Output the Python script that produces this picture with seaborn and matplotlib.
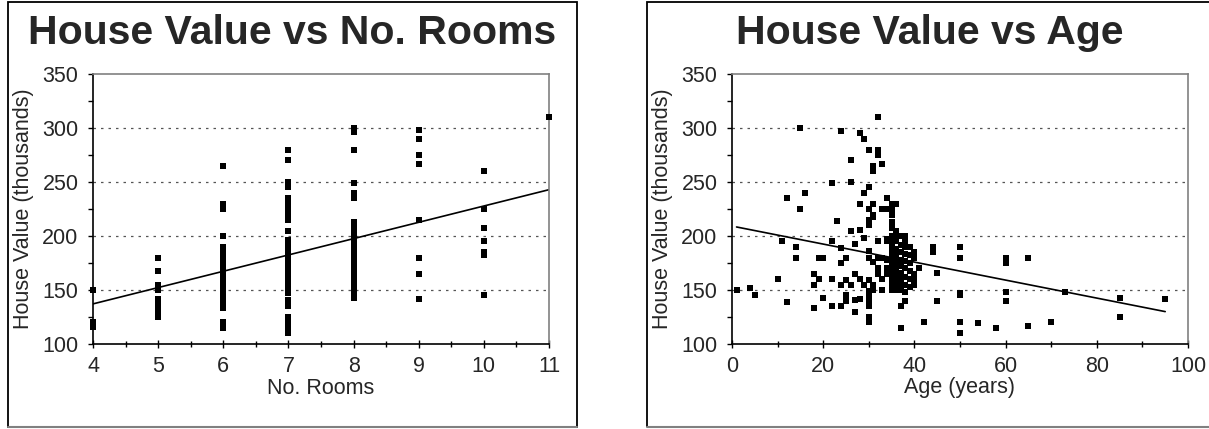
import matplotlib
matplotlib.use("Agg")
import matplotlib.pyplot as plt
import matplotlib.patches as mpatches
from matplotlib.lines import Line2D
from matplotlib.ticker import MultipleLocator
import numpy as np
import pandas as pd
import seaborn as sns

# --- data ---
rooms_values = {
    4: [150, 120, 118, 116],
    5: [180, 168, 155, 150, 142, 138, 135, 130, 125],
    6: [265, 230, 228, 225, 200, 190, 188, 186, 185, 183, 180, 178, 175, 173,
        170, 168, 165, 163, 160, 158, 155, 153, 150, 148, 145, 143, 140, 138,
        135, 133, 120, 115],
    7: [280, 270, 250, 245, 235, 230, 227, 223, 219, 215, 205, 196, 193, 190,
        187, 185, 182, 180, 177, 175, 172, 168, 165, 160, 157, 155, 150, 147,
        141, 135, 125, 120, 116, 110],
    8: [300, 296, 280, 249, 240, 235, 213, 210, 207, 204, 200, 197, 195, 192,
        190, 187, 184, 180, 177, 175, 172, 169, 166, 163, 160, 157, 155, 152,
        149, 146, 143],
    9: [298, 290, 275, 267, 215, 180, 165, 142],
    10: [260, 225, 207, 195, 185, 182, 145],
    11: [310],
}
rooms = [k for k, v in rooms_values.items() for _ in v]
rooms_value = [x for v in rooms_values.values() for x in v]

age_values = {
    1: [150], 4: [152], 5: [145], 10: [160], 11: [195], 12: [139, 235],
    14: [190, 180], 15: [300, 225], 16: [240], 18: [165, 155, 133],
    19: [160, 180], 20: [180, 143], 22: [135, 160, 195, 249], 23: [214],
    24: [297, 189, 175, 135, 155], 25: [180, 159, 145, 140],
    26: [270, 250, 205, 155], 27: [193, 165, 141, 130],
    28: [295, 230, 206, 160, 142], 29: [290, 240, 198, 155],
    30: [280, 245, 225, 215, 210, 186, 180, 159, 149, 145, 140, 135, 125, 120],
    31: [265, 260, 230, 219, 218, 176, 155, 150],
    32: [310, 280, 275, 195, 180, 170, 165],
    33: [267, 225, 180, 160, 150],
    34: [235, 225, 197, 195, 178, 170, 165],
    35: [230, 225, 219, 213, 207, 200, 195, 190, 185, 180, 175, 170, 165,
         160, 155, 150],
    36: [230, 205, 200, 195, 188, 182, 176, 170, 165, 160, 155, 150],
    37: [200, 192, 185, 178, 172, 166, 160, 155, 150, 135, 115],
    38: [200, 195, 190, 183, 177, 170, 162, 155, 148, 140],
    39: [190, 182, 175, 168, 160, 153],
    40: [185, 180, 165, 160, 155], 41: [170], 42: [120], 44: [190, 185],
    45: [166, 140], 50: [190, 180, 147, 145, 120, 110], 54: [119],
    58: [115], 60: [180, 175, 148, 140], 65: [180, 117], 70: [120],
    73: [148], 85: [143, 125], 95: [142],
}
age = [k for k, v in age_values.items() for _ in v]
age_value = [x for v in age_values.values() for x in v]

df_rooms = pd.DataFrame({"No. Rooms": rooms, "value": rooms_value})
df_age = pd.DataFrame({"Age (years)": age, "value": age_value})

sns.set_theme(style="white")
plt.rcParams["font.family"] = ["Liberation Sans", "DejaVu Sans"]

W, H = 1209, 429
fig = plt.figure(figsize=(W / 100, H / 100), dpi=100)

# chart borders (black, bottom edge grey)
for x0, x1 in [(8, 577), (647, 1215)]:
    fig.patches.append(mpatches.Rectangle((x0 / W, 1 - 427 / H), (x1 - x0) / W, 425 / H,
                                          transform=fig.transFigure, fill=False,
                                          edgecolor="black", linewidth=1.3))
    fig.lines.append(Line2D([x0 / W, x1 / W], [1 - 427 / H, 1 - 427 / H],
                            transform=fig.transFigure, color="#808080", linewidth=1.5))

ax1 = fig.add_axes([93 / W, 1 - 344 / H, (549 - 93) / W, 270 / H])
ax2 = fig.add_axes([732 / W, 1 - 344 / H, (1188 - 732) / W, 270 / H])

panels = [
    (ax1, df_rooms, "No. Rooms", "House Value vs No. Rooms", (4, 11), 1, 0.5, 292),
    (ax2, df_age, "Age (years)", "House Value vs Age", (0, 100), 20, 10, 930),
]

for ax, df, xcol, title, xlim, major, minor, tx in panels:
    sns.scatterplot(data=df, x=xcol, y="value", ax=ax, marker="s", s=15,
                    color="black", edgecolor="black", linewidth=0, zorder=3,
                    clip_on=False)
    sns.regplot(data=df, x=xcol, y="value", ax=ax, scatter=False, ci=None,
                line_kws={"color": "black", "linewidth": 1.2}, truncate=True)
    ax.set_xlim(*xlim)
    ax.set_ylim(100, 350)
    ax.xaxis.set_major_locator(MultipleLocator(major))
    ax.xaxis.set_minor_locator(MultipleLocator(minor))
    ax.yaxis.set_major_locator(MultipleLocator(50))
    ax.yaxis.set_minor_locator(MultipleLocator(25))
    for yv in [150, 200, 250, 300]:
        ax.axhline(yv, color="#555555", linestyle=(0, (2, 4)), linewidth=0.9, zorder=1)
    ax.tick_params(axis="x", which="major", direction="inout", length=6, width=1,
                   color="black", labelsize=15.5, pad=6, bottom=True)
    ax.tick_params(axis="x", which="minor", direction="inout", length=4, width=1,
                   color="black", bottom=True)
    ax.tick_params(axis="y", which="both", direction="out", length=3.5, width=1,
                   color="black", labelsize=15.5, pad=7, left=True)
    for side in ["left", "bottom"]:
        ax.spines[side].set_color("black")
        ax.spines[side].set_linewidth(1.2)
    for side in ["top", "right"]:
        ax.spines[side].set_color("#808080")
        ax.spines[side].set_linewidth(1.2)
    ax.set_xlabel(xcol, fontsize=15.5, labelpad=0)
    ax.set_ylabel("House Value (thousands)", fontsize=15.5, labelpad=6)
    fig.text(tx / W, 1 - 33 / H, title, fontsize=29.5, fontweight="bold",
             ha="center", va="center")

fig.savefig("out.png", dpi=100)
